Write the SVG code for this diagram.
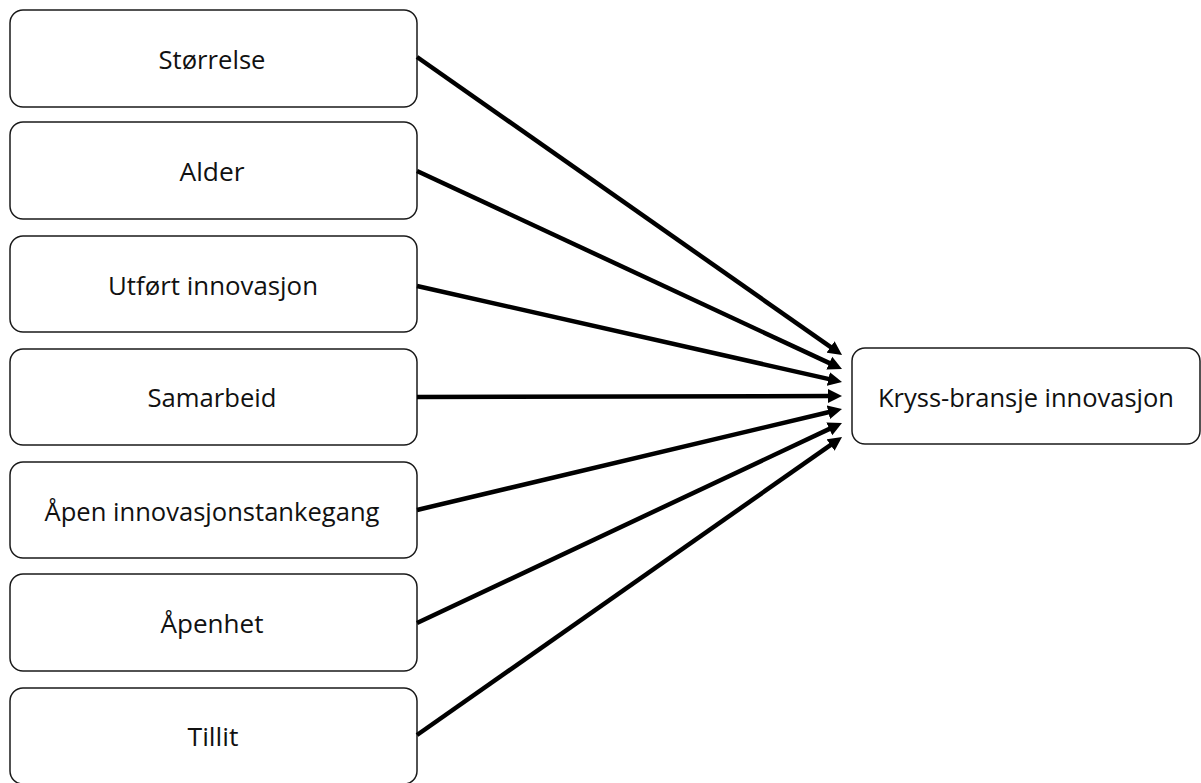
<svg xmlns="http://www.w3.org/2000/svg" width="1201" height="783" viewBox="0 0 1201 783">
<style>
.box{fill:#fff;stroke:#1a1a1a;stroke-width:1.5}
.lbl{font-family:"Open Sans","Liberation Sans",sans-serif;font-size:26px;fill:#111;text-anchor:middle}
.con{stroke:#000;stroke-width:4.5;fill:none}
</style>
<defs>
<marker id="ah" markerUnits="userSpaceOnUse" markerWidth="15" markerHeight="15" refX="2" refY="7" orient="auto" viewBox="0 0 15 14">
<path d="M0,0 L14,7 L0,14 z" fill="#000"/>
</marker>
</defs>
<rect width="1201" height="783" fill="#fff"/>
<g id="n1"><rect class="box" x="10" y="10" width="407" height="97" rx="13"/><text class="lbl" x="212" y="69" textLength="107" lengthAdjust="spacingAndGlyphs">Størrelse</text></g>
<g id="n2"><rect class="box" x="10" y="122" width="407" height="97" rx="13"/><text class="lbl" x="212" y="181" textLength="65" lengthAdjust="spacingAndGlyphs">Alder</text></g>
<g id="n3"><rect class="box" x="10" y="236" width="407" height="96" rx="13"/><text class="lbl" x="213" y="295" textLength="210" lengthAdjust="spacingAndGlyphs">Utført innovasjon</text></g>
<g id="n4"><rect class="box" x="10" y="349" width="407" height="96" rx="13"/><text class="lbl" x="212" y="407" textLength="129" lengthAdjust="spacingAndGlyphs">Samarbeid</text></g>
<g id="n5"><rect class="box" x="10" y="462" width="407" height="96" rx="13"/><text class="lbl" x="212" y="521" textLength="335" lengthAdjust="spacingAndGlyphs">Åpen innovasjonstankegang</text></g>
<g id="n6"><rect class="box" x="10" y="574" width="407" height="97" rx="13"/><text class="lbl" x="212" y="633" textLength="103" lengthAdjust="spacingAndGlyphs">Åpenhet</text></g>
<g id="n7"><rect class="box" x="10" y="688" width="407" height="96" rx="13"/><text class="lbl" x="213" y="746" textLength="51" lengthAdjust="spacingAndGlyphs">Tillit</text></g>
<g id="target"><rect class="box" x="852" y="348" width="348" height="96" rx="13"/><text class="lbl" x="1026" y="407" textLength="296" lengthAdjust="spacingAndGlyphs">Kryss-bransje innovasjon</text></g>
<g id="connectors">
<line class="con" x1="417" y1="57" x2="832.2" y2="348.1" marker-end="url(#ah)"/>
<line class="con" x1="417" y1="171" x2="831.1" y2="363.9" marker-end="url(#ah)"/>
<line class="con" x1="417" y1="286" x2="830.3" y2="379.4" marker-end="url(#ah)"/>
<line class="con" x1="417" y1="397" x2="830" y2="396" marker-end="url(#ah)"/>
<line class="con" x1="417" y1="510" x2="830.3" y2="411.8" marker-end="url(#ah)"/>
<line class="con" x1="417" y1="623" x2="831.1" y2="428.1" marker-end="url(#ah)"/>
<line class="con" x1="417" y1="735" x2="832.2" y2="443.9" marker-end="url(#ah)"/>
</g>
</svg>
